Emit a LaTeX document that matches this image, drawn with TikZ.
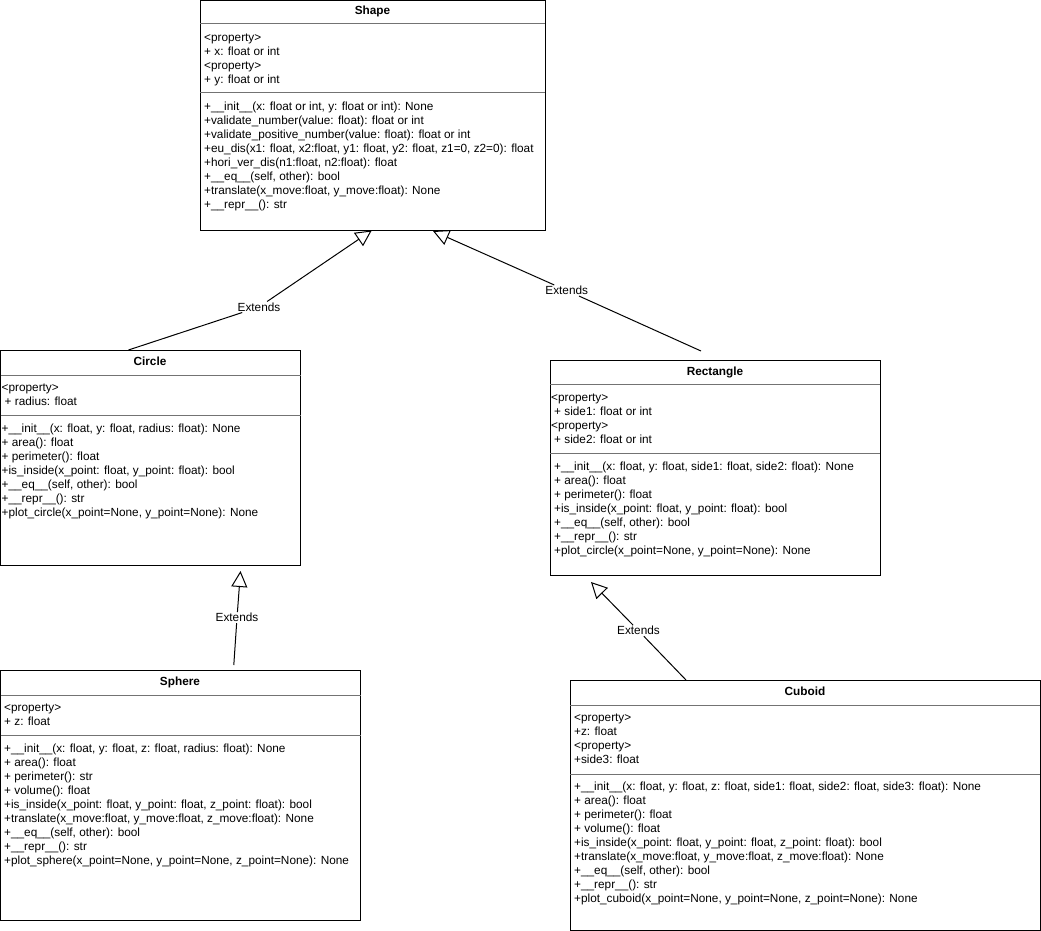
\documentclass[tikz,border=0pt]{standalone}
\usepackage{fontspec}
\setmainfont{Liberation Sans}
\usetikzlibrary{arrows.meta}

\begin{document}
\begin{tikzpicture}[x=1pt,y=-1pt,
  classbox/.style={draw=black, line width=1pt, rectangle, inner sep=0pt, outer sep=0pt, anchor=north west},
  ctitle/.style={anchor=base, inner sep=0pt, font=\bfseries\fontsize{11.8}{14}\selectfont},
  comp/.style={anchor=north west, inner sep=0pt, align=left, font=\fontsize{11.8}{14}\selectfont},
  divider/.style={draw=black!55, line width=1pt},
  lbl/.style={inner sep=1pt, font=\fontsize{11.8}{14}\selectfont},
  extends/.style={draw=black, line width=1pt, -{Triangle[open,length=16pt,width=16pt]}}
]
\useasboundingbox (0,0) rectangle (1041,931);

% ---------- Shape ----------
\node[classbox, minimum width=345pt, minimum height=229.5pt] (shape) at (200,0.5) {};
\node[ctitle] (shape-t) at (372.5,15) {Shape};
\draw[divider] (shape.west |- 0,24) -- (shape.east |- 0,24);
\node[comp] (shape-a) at (204,31.2) {\strut<property>\\+ x: float or int\\<property>\\+ y: float or int};
\draw[divider] (shape.west |- 0,93) -- (shape.east |- 0,93);
\node[comp] (shape-m) at (204,100.2) {\strut+\_\_init\_\_(x: float or int, y: float or int): None\\
+validate\_number(value: float): float or int\\
+validate\_positive\_number(value: float): float or int\\
+eu\_dis(x1: float, x2:float, y1: float, y2: float, z1=0, z2=0): float\\
+hori\_ver\_dis(n1:float, n2:float): float\\
+\_\_eq\_\_(self, other): bool\\
+translate(x\_move:float, y\_move:float): None\\
+\_\_repr\_\_(): str};

% ---------- Circle ----------
\node[classbox, minimum width=300pt, minimum height=215pt] (circle) at (0.5,350) {};
\node[ctitle] (circle-t) at (150,365) {Circle};
\draw[divider] (circle.west |- 0,375) -- (circle.east |- 0,375);
\node[comp] (circle-a) at (1.5,381.2) {\strut<property>\\\hspace*{3pt}+ radius: float};
\draw[divider] (circle.west |- 0,415) -- (circle.east |- 0,415);
\node[comp] (circle-m) at (1.5,422.2) {\strut+\_\_init\_\_(x: float, y: float, radius: float): None\\
+ area(): float\\
+ perimeter(): float\\
+is\_inside(x\_point: float, y\_point: float): bool\\
+\_\_eq\_\_(self, other): bool\\
+\_\_repr\_\_(): str\\
+plot\_circle(x\_point=None, y\_point=None): None};

% ---------- Rectangle ----------
\node[classbox, minimum width=330pt, minimum height=215pt] (rect) at (550,360) {};
\node[ctitle] (rect-t) at (715,375) {Rectangle};
\draw[divider] (rect.west |- 0,384) -- (rect.east |- 0,384);
\node[comp] (rect-a) at (551,391.2) {\strut<property>\\\hspace*{3pt}+ side1: float or int\\<property>\\\hspace*{3pt}+ side2: float or int};
\draw[divider] (rect.west |- 0,453) -- (rect.east |- 0,453);
\node[comp] (rect-m) at (551,460.2) {\strut\hspace*{3pt}+\_\_init\_\_(x: float, y: float, side1: float, side2: float): None\\
\hspace*{3pt}+ area(): float\\
\hspace*{3pt}+ perimeter(): float\\
\hspace*{3pt}+is\_inside(x\_point: float, y\_point: float): bool\\
\hspace*{3pt}+\_\_eq\_\_(self, other): bool\\
\hspace*{3pt}+\_\_repr\_\_(): str\\
\hspace*{3pt}+plot\_circle(x\_point=None, y\_point=None): None};

% ---------- Sphere ----------
\node[classbox, minimum width=360pt, minimum height=250pt] (sphere) at (0.5,670) {};
\node[ctitle] (sphere-t) at (180,685) {Sphere};
\draw[divider] (sphere.west |- 0,695) -- (sphere.east |- 0,695);
\node[comp] (sphere-a) at (4,701.2) {\strut<property>\\+ z: float};
\draw[divider] (sphere.west |- 0,735) -- (sphere.east |- 0,735);
\node[comp] (sphere-m) at (4,742.2) {\strut+\_\_init\_\_(x: float, y: float, z: float, radius: float): None\\
+ area(): float\\
+ perimeter(): str\\
+ volume(): float\\
+is\_inside(x\_point: float, y\_point: float, z\_point: float): bool\\
+translate(x\_move:float, y\_move:float, z\_move:float): None\\
+\_\_eq\_\_(self, other): bool\\
+\_\_repr\_\_(): str\\
+plot\_sphere(x\_point=None, y\_point=None, z\_point=None): None};

% ---------- Cuboid ----------
\node[classbox, minimum width=470pt, minimum height=250pt] (cuboid) at (570,680) {};
\node[ctitle] (cuboid-t) at (805,695) {Cuboid};
\draw[divider] (cuboid.west |- 0,705) -- (cuboid.east |- 0,705);
\node[comp] (cuboid-a) at (574,711.2) {\strut<property>\\+z: float\\<property>\\+side3: float};
\draw[divider] (cuboid.west |- 0,774) -- (cuboid.east |- 0,774);
\node[comp] (cuboid-m) at (574,780.2) {\strut+\_\_init\_\_(x: float, y: float, z: float, side1: float, side2: float, side3: float): None\\
+ area(): float\\
+ perimeter(): float\\
+ volume(): float\\
+is\_inside(x\_point: float, y\_point: float, z\_point: float): bool\\
+translate(x\_move:float, y\_move:float, z\_move:float): None\\
+\_\_eq\_\_(self, other): bool\\
+\_\_repr\_\_(): str\\
+plot\_cuboid(x\_point=None, y\_point=None, z\_point=None): None};

% ---------- Generalisation connectors ----------
\coordinate (c1) at ([xshift=-22pt]circle.north);
\coordinate (t1) at ([xshift=-0.8pt,yshift=-0.5pt]shape.south);
\node[lbl] (l1) at (259,307) {Extends};
\draw[extends] (c1) -- (l1) -- (t1);

\coordinate (c2) at ([xshift=-14pt,yshift=9pt]rect.north);
\coordinate (t2) at ([xshift=60.5pt,yshift=-1pt]shape.south);
\node[lbl] (l2) at (566.7,290.5) {Extends};
\draw[extends] (c2) -- (l2) -- (t2);

\coordinate (c3) at ([xshift=53.3pt,yshift=5pt]sphere.north);
\coordinate (t3) at ([xshift=90pt,yshift=-6pt]circle.south);
\node[lbl] (l3) at (237,617.7) {Extends};
\draw[extends] (c3) -- (l3) -- (t3);

\coordinate (c4) at ([xshift=-119pt]cuboid.north);
\coordinate (t4) at ([xshift=-124pt,yshift=-7pt]rect.south);
\node[lbl] (l4) at (638.5,630.7) {Extends};
\draw[extends] (c4) -- (l4) -- (t4);
\end{tikzpicture}
\end{document}
